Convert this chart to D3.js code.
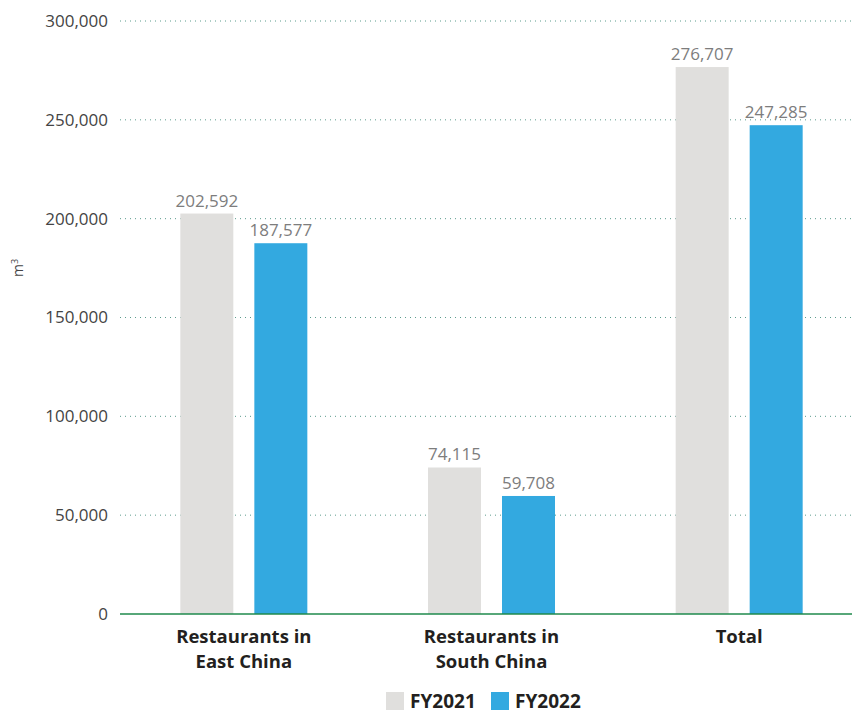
<!DOCTYPE html>
<html>
<head>
<meta charset="utf-8">
<script src="https://cdn.jsdelivr.net/npm/d3@7"></script>
<style>
  body { margin: 0; background: #fff; }
  svg { display: block; font-family: "Open Sans", "Noto Sans", sans-serif; }
</style>
</head>
<body>
<svg id="chart" width="852" height="715"></svg>
<script>
// data
const categories = [["Restaurants in", "East China"], ["Restaurants in", "South China"], ["Total"]];
const seriesNames = ["FY2021", "FY2022"];
const fy2021 = [202592, 74115, 276707];
const fy2022 = [187577, 59708, 247285];
const yTicks = [0, 50000, 100000, 150000, 200000, 250000, 300000];
const colors = ["#e0dfdd", "#33a9e0"];

const svg = d3.select("#chart");

// plot area
const plotLeft = 120, plotRight = 863, plotTop = 21, plotBottom = 614;

const y = d3.scaleLinear().domain([0, 300000]).range([plotBottom, plotTop]);
const x0 = d3.scaleBand().domain(d3.range(categories.length)).range([plotLeft, plotRight]);
const x1 = d3.scaleBand().domain(seriesNames).range([0, 127]).paddingInner(0.284);
const groupOffset = (x0.bandwidth() - 127) / 2;

const fmt = d3.format(",");

// gridlines
svg.selectAll(".grid")
  .data(yTicks.filter(d => d > 0))
  .enter().append("line")
  .attr("x1", plotLeft).attr("x2", 852)
  .attr("y1", d => y(d)).attr("y2", d => y(d))
  .attr("stroke", "#5b9c8c")
  .attr("stroke-width", 1)
  .attr("stroke-dasharray", "1,4");

// y tick labels
svg.selectAll(".ylab")
  .data(yTicks)
  .enter().append("text")
  .attr("x", 108)
  .attr("y", d => y(d))
  .attr("dy", "0.35em")
  .attr("text-anchor", "end")
  .attr("fill", "#444")
  .style("font-size", "17px")
  .text(d => fmt(d));

// y axis title
svg.append("text")
  .attr("transform", "translate(23,268) rotate(-90)")
  .attr("text-anchor", "middle")
  .attr("fill", "#444")
  .style("font-size", "14px")
  .html("m<tspan dy='-5' font-size='9'>3</tspan>");

// bars
const rows = categories.map((c, i) => ({ i, vals: [fy2021[i], fy2022[i]] }));

const groups = svg.selectAll(".grp")
  .data(rows)
  .enter().append("g")
  .attr("transform", d => `translate(${x0(d.i) + groupOffset},0)`);

groups.selectAll("rect")
  .data(d => d.vals.map((v, k) => ({ key: seriesNames[k], v, k })))
  .enter().append("rect")
  .attr("x", d => x1(d.key))
  .attr("y", d => y(d.v))
  .attr("width", x1.bandwidth())
  .attr("height", d => plotBottom - y(d.v))
  .attr("fill", d => colors[d.k]);

groups.selectAll(".val")
  .data(d => d.vals.map((v, k) => ({ key: seriesNames[k], v, k })))
  .enter().append("text")
  .attr("x", d => x1(d.key) + x1.bandwidth() / 2)
  .attr("y", d => y(d.v) - 7)
  .attr("text-anchor", "middle")
  .attr("fill", "#7d7d7d")
  .style("font-size", "17px")
  .text(d => fmt(d.v));

// baseline
svg.append("line")
  .attr("x1", plotLeft).attr("x2", 852)
  .attr("y1", plotBottom).attr("y2", plotBottom)
  .attr("stroke", "#1f8a4c")
  .attr("stroke-width", 1.5);

// category labels
svg.selectAll(".cat")
  .data(categories)
  .enter().append("text")
  .attr("text-anchor", "middle")
  .attr("fill", "#231f20")
  .style("font-size", "18.5px")
  .style("font-weight", "bold")
  .each(function (d, i) {
    const t = d3.select(this);
    d.forEach((line, j) => {
      t.append("tspan")
        .attr("x", x0(i) + x0.bandwidth() / 2)
        .attr("y", 643 + j * 25)
        .text(line);
    });
  });

// legend
const legend = svg.selectAll(".leg")
  .data(seriesNames)
  .enter().append("g")
  .attr("transform", (d, i) => `translate(${386 + i * 105},692)`);

legend.append("rect")
  .attr("width", 18).attr("height", 18)
  .attr("fill", (d, i) => colors[i]);

legend.append("text")
  .attr("x", 24).attr("y", 16)
  .attr("fill", "#231f20")
  .style("font-size", "19px")
  .style("font-weight", "bold")
  .text(d => d);
</script>
</body>
</html>
